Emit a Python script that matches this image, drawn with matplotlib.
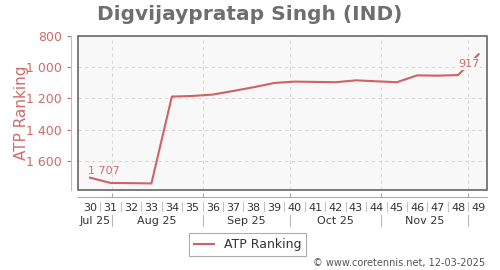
#!/bin/env python3

import numpy as np
import matplotlib.pyplot as plt
from matplotlib.patches import Rectangle
from matplotlib.ticker import FixedLocator, FuncFormatter
import matplotlib.transforms as mtransforms

# weekly ATP ranking, ISO weeks of 2025
weeks = [30, 31, 32, 33, 34, 35, 36, 37, 38, 39,
         40, 41, 42, 43, 44, 45, 46, 47, 48, 49]
ranking = [1707, 1741, 1742, 1744, 1188, 1184, 1175, 1152, 1128, 1101,
           1092, 1094, 1096, 1084, 1090, 1096, 1052, 1054, 1050, 917]

# month starts expressed in week units (week k spans k-0.5 .. k+0.5)
month_starts = [31.07, 35.5, 39.79, 44.21, 48.5]
month_names = ['Jul 25', 'Aug 25', 'Sep 25', 'Oct 25', 'Nov 25']

y_ticks = [800, 1000, 1200, 1400, 1600]

LINE = '#cf6262'
PINK = '#cd6b6b'


def main():
    fig = plt.figure(figsize=(5, 2.7), dpi=100)
    ax = fig.add_axes([0.156, 0.2963, 0.818, 0.5704])
    ax.set_facecolor('#f8f8f8')

    ax.set_xlim(29.41, 49.41)
    ax.set_ylim(1786, 800)

    # grid
    for m in month_starts:
        ax.axvline(m, color='#d8d8d8', lw=0.8, ls=(0, (3, 3)), zorder=0)
    for t in y_ticks[1:]:
        ax.axhline(t, color='#d8d8d8', lw=0.8, ls=(0, (3, 3)), zorder=0)

    ax.plot(weeks, ranking, color=LINE, lw=1.5, label='ATP Ranking', zorder=3)

    # point labels
    ax.annotate('1 707', (weeks[0], ranking[0]), xytext=(10, 5),
                textcoords='offset points', ha='center', va='center',
                fontsize=8, color=PINK, zorder=4)
    ax.annotate(str(ranking[-1]), (weeks[-1], ranking[-1]), xytext=(-7, -7),
                textcoords='offset points', ha='center', va='center',
                fontsize=8, color=PINK, zorder=4,
                bbox=dict(facecolor='#f8f8f8', edgecolor='none', pad=0.5))

    # frame box
    ax.add_patch(Rectangle((0, 0), 1, 1, transform=ax.transAxes, fill=False,
                           edgecolor='#666666', lw=1.2, zorder=5, clip_on=False))

    for s in ['top', 'right']:
        ax.spines[s].set_visible(False)
    ax.spines['left'].set_position(('outward', 5))
    ax.spines['bottom'].set_position(('outward', 5))
    ax.spines['left'].set_color('#e0b0b0')
    ax.spines['bottom'].set_color('#aaaaaa')

    ax.set_yticks(y_ticks)
    ax.yaxis.set_major_formatter(FuncFormatter(lambda v, p: f'{v:,.0f}'.replace(',', ' ')))
    ax.tick_params(axis='y', colors=PINK, labelsize=9, length=3, width=0.8)
    ax.tick_params(axis='y', labelcolor=PINK)

    ax.xaxis.set_major_locator(FixedLocator(month_starts))
    ax.xaxis.set_minor_locator(FixedLocator(weeks))
    ax.xaxis.set_major_formatter(FuncFormatter(lambda v, p: ''))
    ax.xaxis.set_minor_formatter(FuncFormatter(lambda v, p: f'{int(round(v))}'))
    ax.tick_params(axis='x', which='major', length=3, color='#aaaaaa', direction='in')
    ax.tick_params(axis='x', which='minor', length=0, labelsize=8,
                   labelcolor='#333333', pad=4.5)

    ax.set_ylabel('ATP Ranking', color=PINK, fontsize=11, labelpad=-2)

    trans = mtransforms.blended_transform_factory(ax.transData, ax.transAxes)
    # week separators
    for w in weeks[:-1]:
        ax.plot([w + 0.5, w + 0.5], [-0.075, -0.135], color='#c4c4c4', lw=0.8,
                transform=trans, clip_on=False)
    # month separators and names
    for m in month_starts:
        ax.plot([m, m], [-0.165, -0.235], color='#bbbbbb', lw=0.8,
                transform=trans, clip_on=False)
    edges = [29.41] + month_starts
    for i, name in enumerate(month_names):
        ax.text((edges[i] + edges[i + 1]) / 2, -0.2, name, transform=trans,
                ha='center', va='center', fontsize=8, color='#333333')

    fig.text(0.5, 0.948, 'Digvijaypratap Singh (IND)', ha='center', va='center',
             fontsize=14.5, fontweight='bold', color='#6e6e6e')

    leg = fig.legend(loc='center', bbox_to_anchor=(0.495, 0.093), fontsize=9,
                     fancybox=False, edgecolor='#999999', handlelength=1.6,
                     borderpad=0.4, labelcolor='#333333')
    leg.get_frame().set_linewidth(0.8)

    fig.text(0.97, 0.026, '\u00a9 www.coretennis.net, 12-03-2025', ha='right',
             va='center', fontsize=7, color='#555555')

    fig.savefig('out.png', dpi=100)


if __name__ == '__main__':
    main()
